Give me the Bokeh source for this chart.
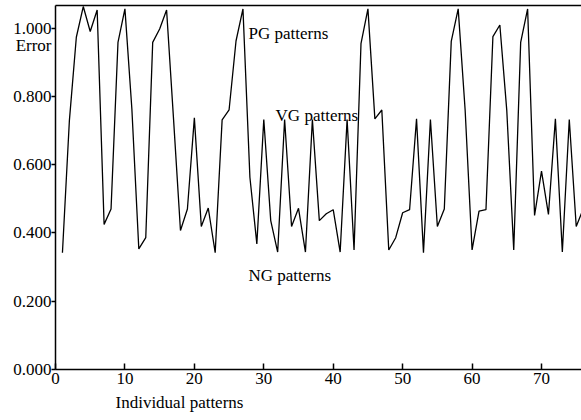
from bokeh.plotting import figure
from bokeh.models import (Range1d, LinearAxis, FixedTicker, PrintfTickFormatter,
                          Label, Title)
from bokeh.embed import file_html
from bokeh.resources import INLINE

# Error for each individual training pattern
pattern_index = list(range(1, 77))
error_values = [
    0.342, 0.729, 0.973, 1.063, 0.990, 1.053, 0.425, 0.470, 0.958, 1.056,
    0.763, 0.353, 0.386, 0.958, 0.997, 1.053, 0.734, 0.407, 0.470, 0.737,
    0.419, 0.473, 0.342, 0.731, 0.760, 0.962, 1.056, 0.563, 0.368, 0.732,
    0.436, 0.344, 0.732, 0.419, 0.472, 0.344, 0.732, 0.436, 0.456, 0.468,
    0.344, 0.732, 0.350, 0.954, 1.056, 0.734, 0.760, 0.350, 0.386, 0.459,
    0.468, 0.734, 0.342, 0.732, 0.419, 0.470, 0.961, 1.056, 0.760, 0.350,
    0.464, 0.468, 0.975, 1.009, 0.758, 0.350, 0.958, 1.056, 0.451, 0.581,
    0.454, 0.734, 0.344, 0.732, 0.419, 0.470,
]
x_ticks = [0, 10, 20, 30, 40, 50, 60, 70]
y_ticks = [0.0, 0.2, 0.4, 0.6, 0.8, 1.0]
y_title_pos = 0.948  # the "Error" title sits just under the 1.000 label

# Group annotations: (text, x, y)
group_labels = [
    ("PG patterns", 27.8, 0.983),
    ("VG patterns", 31.7, 0.744),
    ("NG patterns", 27.8, 0.275),
]

FONT = "Liberation Serif"
FS = "17px"

p = figure(width=581, height=420, output_backend="svg", toolbar_location=None,
           x_range=Range1d(0, 75.76), y_range=Range1d(0, 1.066),
           min_border_left=55, min_border_right=0, min_border_top=5,
           min_border_bottom=51, x_axis_type=None, y_axis_type=None)
p.background_fill_color = "white"
p.border_fill_color = "white"
p.outline_line_color = None
p.xgrid.visible = False
p.ygrid.visible = False

xaxis = LinearAxis(ticker=FixedTicker(ticks=x_ticks))
xaxis.major_tick_in = 6
xaxis.major_tick_out = 0
xaxis.minor_tick_line_color = None
xaxis.major_label_standoff = 3
xaxis.axis_line_width = 1.5
xaxis.major_tick_line_width = 1.5
xaxis.major_label_text_font = FONT
xaxis.major_label_text_font_size = FS
xaxis.major_label_text_color = "black"
p.add_layout(xaxis, "below")

# x title, left aligned under the axis
p.add_layout(Title(text="Individual patterns", align="left", offset=60,
                   text_font=FONT, text_font_size=FS, text_font_style="normal",
                   text_color="black", standoff=8), "below")

# y axis: line and outward ticks next to the frame ...
ytick_axis = LinearAxis(ticker=FixedTicker(ticks=y_ticks))
ytick_axis.major_tick_in = 0
ytick_axis.major_tick_out = 4
ytick_axis.minor_tick_line_color = None
ytick_axis.major_label_standoff = 0
ytick_axis.major_label_text_color = None
ytick_axis.axis_line_width = 1.5
ytick_axis.major_tick_line_width = 1.5
p.add_layout(ytick_axis, "left")

# ... and the tick labels plus the "Error" title just outside it
ylabel_axis = LinearAxis(ticker=FixedTicker(ticks=y_ticks + [y_title_pos]),
                         formatter=PrintfTickFormatter(format="%.3f"),
                         major_label_overrides={y_title_pos: "Error"})
ylabel_axis.axis_line_color = None
ylabel_axis.major_tick_line_color = None
ylabel_axis.minor_tick_line_color = None
ylabel_axis.major_tick_in = 0
ylabel_axis.major_tick_out = 0
ylabel_axis.major_label_standoff = 0
ylabel_axis.major_label_text_font = FONT
ylabel_axis.major_label_text_font_size = FS
ylabel_axis.major_label_text_color = "black"
p.add_layout(ylabel_axis, "left")

# plain line along the top of the frame
top = LinearAxis(ticker=FixedTicker(ticks=[]))
top.major_tick_line_color = None
top.minor_tick_line_color = None
top.major_label_text_color = None
top.axis_line_width = 1.5
top.major_label_standoff = 0
p.add_layout(top, "above")

p.line(pattern_index, error_values, line_color="black", line_width=1.3)

for text, lx, ly in group_labels:
    p.add_layout(Label(x=lx, y=ly, text=text, text_font=FONT,
                       text_font_size=FS, text_color="black",
                       text_baseline="alphabetic"))

open("out.html", "w").write(file_html(p, INLINE))
